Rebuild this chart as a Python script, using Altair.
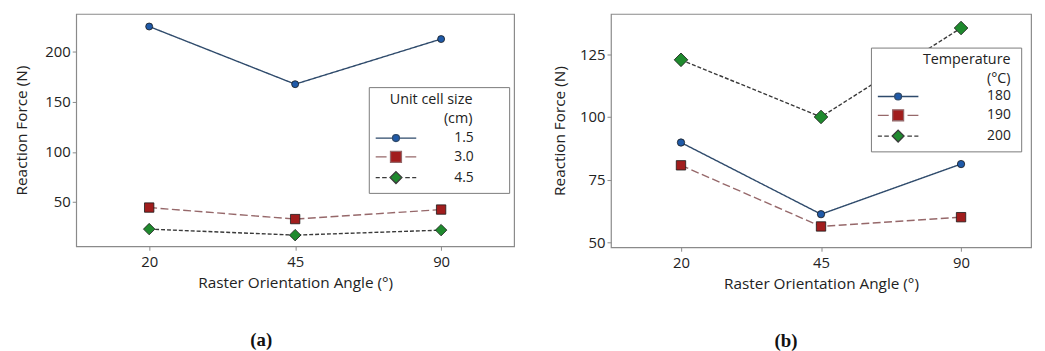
import altair as alt
import pandas as pd

# ---------------- data ----------------
angles = ["20", "45", "90"]

cell_sizes = ["1.5", "3.0", "4.5"]
force_cell_15 = [225.0, 167.5, 212.5]
force_cell_30 = [44.5, 33.0, 42.5]
force_cell_45 = [23.0, 17.0, 22.0]

temperatures = ["180", "190", "200"]
force_temp_180 = [89.8, 61.2, 81.2]
force_temp_190 = [80.7, 56.3, 60.0]
force_temp_200 = [122.8, 100.0, 135.5]

y_ticks_a = [50, 100, 150, 200]
y_ticks_b = [50, 75, 100, 125]

# ---------------- styles ----------------
FONT = "Open Sans"
TXT = "#222222"
FRAME = "#8a8a8a"
line_colors = ["#2e4a6b", "#96686a", "#3a3a3a"]
line_dashes = [[1, 0], [8, 3.5], [4, 2]]
marker_shapes = ["circle", "square", "diamond"]
marker_fills = ["#1f5aa8", "#a11d1d", "#1f8a2e"]
# legend symbols: line + marker, 1 unit = 7 px (symbolSize 196)
legend_paths = [
    "M-2.93,0H-0.5M0.5,0H2.93M0.5,0A0.5,0.5,0,1,1,-0.5,0A0.5,0.5,0,1,1,0.5,0Z",
    "M-2.93,0H-1.36M1.36,0H2.93M-0.79,-0.79H0.79V0.79H-0.79Z",
    "M-2.93,0H-2.34M-2.0,0H-1.34M1.34,0H2.0M2.34,0H2.93M0,-0.86L0.86,0L0,0.86L-0.86,0Z",
]
NB = "\u00a0"
ZW = "\u200b"


def pad(n):
    return (NB * n + ZW) if n > 0 else ""


def make_df(series, values):
    rows = []
    for s, vals in zip(series, values):
        for a, v in zip(angles, vals):
            rows.append({"angle": a, "series": s, "force": v})
    return pd.DataFrame(rows)


def panel(df, series, ydomain, yticks, title_lines, lx, ly, label_offset,
          row_pad, title_pad, label_pad, width, height, caption, cap_dx, msizes, ytitle_pad):
    x = alt.X("angle:N", sort=angles,
              scale=alt.Scale(type="point", padding=0.5),
              axis=alt.Axis(title="Raster Orientation Angle (°)", labelAngle=0))
    y = alt.Y("force:Q",
              scale=alt.Scale(domain=ydomain, nice=False, zero=False),
              axis=alt.Axis(title="Reaction Force (N)", values=yticks, titlePadding=ytitle_pad))
    layers = []
    for i, s in enumerate(series):
        base = alt.Chart(df).transform_filter(alt.datum.series == s)
        layers.append(base.mark_line(stroke=line_colors[i], strokeDash=line_dashes[i],
                                     strokeWidth=1.4).encode(x=x, y=y))
    for i, s in enumerate(series):
        base = alt.Chart(df).transform_filter(alt.datum.series == s)
        layers.append(base.mark_point(shape=marker_shapes[i], filled=True, fill=marker_fills[i],
                                      stroke="#1a1a1a", strokeWidth=0.8, opacity=1,
                                      size=msizes[i]).encode(x=x, y=y))
    leg = alt.Legend(
        orient="none", legendX=lx, legendY=ly, title=title_lines,
        titleAlign="right", titleAnchor="end", titleFont=FONT, titleFontSize=14.5,
        titleFontWeight="normal", titleColor=TXT, titleLineHeight=19, titlePadding=title_pad,
        labelFont=FONT, labelFontSize=14, labelColor=TXT, labelOffset=label_offset,
        labelExpr="datum.label + '" + pad(label_pad) + "'",
        symbolSize=196, symbolOffset=13.5, symbolStrokeWidth=1.3, symbolOpacity=1,
        rowPadding=row_pad, padding=6, strokeColor="#7a7a7a", fillColor="white",
    )
    legend_layer = alt.Chart(df).transform_filter("false").mark_point(filled=True).encode(
        shape=alt.Shape("series:N", scale=alt.Scale(domain=series, range=legend_paths), legend=leg),
        fill=alt.Fill("series:N", scale=alt.Scale(domain=series, range=marker_fills), legend=leg),
        stroke=alt.Stroke("series:N", scale=alt.Scale(domain=series, range=line_colors), legend=leg),
    )
    layers.append(legend_layer)
    return alt.layer(*layers).properties(
        width=width, height=height,
        title=alt.TitleParams(caption, orient="bottom", anchor="middle", frame="bounds",
                              font="Liberation Serif", fontSize=19, fontWeight="bold",
                              color="#111111", offset=40, dx=cap_dx),
    )


df_a = make_df(cell_sizes, [force_cell_15, force_cell_30, force_cell_45])
df_b = make_df(temperatures, [force_temp_180, force_temp_190, force_temp_200])

pa = panel(df_a, cell_sizes, [5.9, 237.5], y_ticks_a,
           ["Unit cell size" + pad(8), "(cm)" + pad(8)],
           296, 74, 51, 3, 4, 8, 443, 235, "(a)", -3, [50, 90, 135], 16)
pb = panel(df_b, temperatures, [48.0, 141.1], y_ticks_b,
           ["Temperature" + pad(1), "(°C)" + pad(1)],
           263, 34, 82, 3, 2, 1, 425, 236, "(b)", -6, [55, 90, 190], 12)

chart = alt.hconcat(pa, pb, spacing=37).resolve_scale(
    x="independent", y="independent", fill="independent",
    stroke="independent", shape="independent",
).resolve_legend(fill="independent", stroke="independent", shape="independent").properties(
    padding={"left": 5, "top": 3, "right": 5, "bottom": 5},
    background="white",
).configure_view(stroke=FRAME, strokeWidth=1.2).configure_axis(
    domain=False, grid=False, tickColor=FRAME, tickSize=4,
    labelFont=FONT, labelFontSize=15, labelColor=TXT,
    titleFont=FONT, titleFontSize=15.5, titleFontWeight="normal", titleColor=TXT,
).configure_axisY(labelPadding=2).configure_axisX(titlePadding=7, labelPadding=4)

chart.save("out.html", embed_options={"renderer": "svg", "actions": False})
